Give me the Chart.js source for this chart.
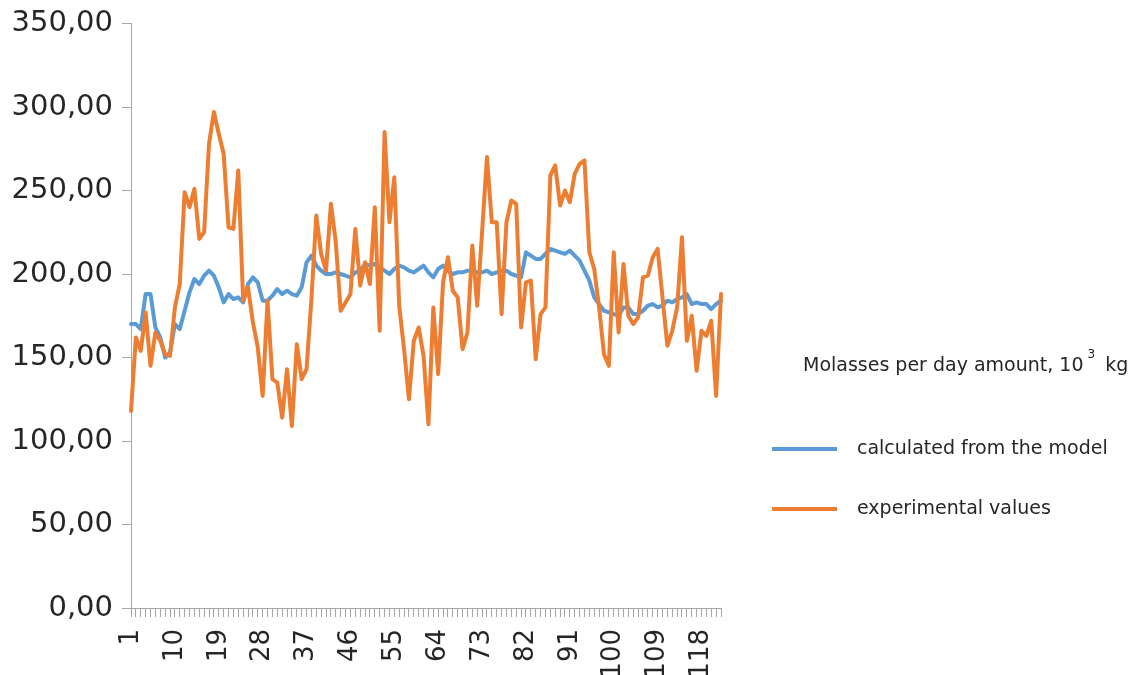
<!DOCTYPE html>
<html>
<head>
<meta charset="utf-8">
<script src="https://cdn.jsdelivr.net/npm/chart.js@4.4.1/dist/chart.umd.min.js"></script>
<style>
  html, body { margin: 0; padding: 0; background: #ffffff; }
  #wrap { width: 1135px; height: 675px; position: relative; }
</style>
</head>
<body>
<div id="wrap"><canvas id="chart" width="1135" height="675"></canvas></div>
<script>
// Day numbers along the horizontal axis (1 .. 122)
const days = Array.from({ length: 122 }, (_, i) => String(i + 1));
// Every 9th day carries a label
const labelStep = 9;

// Molasses per day, 10^3 kg — values calculated from the model
const modelValues = [
  170,170,167,188,188,168,162,150,153,170,
  167,178,189,197,194,199,202,199,192,183,
  188,185,186,183,194,198,195,184,184,187,
  191,188,190,188,187,192,207,211,205,202,
  200,200,201,200,199,198,201,202,206,205,
  206,204,202,200,203,205,204,202,201,203,
  205,201,198,203,205,202,200,201,201,202,
  202,201,201,202,200,201,202,202,200,199,
  198,213,211,209,209,212,215,214,213,212,
  214,211,208,202,196,186,182,178,177,176,
  175,180,180,176,176,178,181,182,180,181,
  184,183,185,186,188,182,183,182,182,179,
  182,184
];

// Molasses per day, 10^3 kg — experimental values
const experimentalValues = [
  118,162,154,177,145,165,160,152,151,180,
  194,249,240,251,221,225,278,297,284,272,
  228,227,262,184,192,171,156,127,184,137,
  135,114,143,109,158,137,143,185,235,212,
  202,242,219,178,183,188,227,193,207,194,
  240,166,285,231,258,181,155,125,160,168,
  151,110,180,140,195,210,190,186,155,165,
  217,181,225,270,231,231,176,231,244,242,
  168,195,196,149,176,180,259,265,241,250,
  243,260,266,268,213,203,180,152,145,213,
  165,206,175,170,174,198,199,210,215,186,
  157,166,180,222,160,175,142,166,163,172,
  127,188
];

// Value axis range and step
const yMin = 0;
const yMax = 350;
const yStep = 50;

// Series names and legend heading
const seriesNames = ['calculated from the model', 'experimental values'];
const legendHeading = 'Molasses per day amount, 10';
const legendHeadingSup = '3';
const legendHeadingUnit = 'kg';

const blue = '#5b9bd5';
const orange = '#ed7d31';
const axisGray = '#a6a6a6';
const textColor = '#262626';
const fontFamily = '"DejaVu Sans", "Open Sans", sans-serif';

// Legend on the right: heading plus one line sample per series
const sideLegend = {
  id: 'sideLegend',
  afterDraw(chart) {
    const { ctx, chartArea } = chart;
    const base = chartArea.right;
    ctx.save();
    ctx.fillStyle = textColor;
    ctx.textBaseline = 'middle';
    ctx.textAlign = 'left';

    // heading with superscript exponent
    const hx = base + 82, hy = 366;
    ctx.font = '19px ' + fontFamily;
    ctx.fillText(legendHeading, hx, hy);
    let cx = hx + ctx.measureText(legendHeading).width + 4;
    ctx.font = '12px ' + fontFamily;
    ctx.fillText(legendHeadingSup, cx, hy - 11);
    cx += ctx.measureText(legendHeadingSup).width + 10;
    ctx.font = '19px ' + fontFamily;
    ctx.fillText(legendHeadingUnit, cx, hy);

    // entries
    const rows = [449, 509];
    chart.data.datasets.forEach((ds, i) => {
      const y = rows[i];
      ctx.strokeStyle = ds.borderColor;
      ctx.lineWidth = 4;
      ctx.lineCap = 'butt';
      ctx.beginPath();
      ctx.moveTo(base + 51, y);
      ctx.lineTo(base + 116, y);
      ctx.stroke();
      ctx.fillStyle = textColor;
      ctx.font = '19px ' + fontFamily;
      ctx.fillText(ds.label, base + 136, y);
    });
    ctx.restore();
  }
};

new Chart(document.getElementById('chart'), {
  type: 'line',
  data: {
    labels: days,
    datasets: [
      {
        label: seriesNames[0],
        data: modelValues,
        borderColor: blue,
        backgroundColor: blue,
        borderWidth: 4,
        pointRadius: 0,
        tension: 0,
        borderJoinStyle: 'round',
        borderCapStyle: 'round',
        order: 2
      },
      {
        label: seriesNames[1],
        data: experimentalValues,
        borderColor: orange,
        backgroundColor: orange,
        borderWidth: 4,
        pointRadius: 0,
        tension: 0,
        borderJoinStyle: 'round',
        borderCapStyle: 'round',
        order: 1
      }
    ]
  },
  options: {
    responsive: false,
    animation: false,
    devicePixelRatio: 1,
    layout: { padding: { top: 23.5, right: 414, bottom: 0, left: 0 } },
    plugins: {
      legend: { display: false },
      tooltip: { enabled: false },
      title: { display: false }
    },
    scales: {
      x: {
        type: 'category',
        offset: false,
        grid: {
          offset: false,
          drawOnChartArea: false,
          drawTicks: true,
          tickLength: 9,
          color: axisGray,
          lineWidth: 1
        },
        border: { display: true, color: axisGray, width: 1 },
        ticks: {
          autoSkip: false,
          maxRotation: 90,
          minRotation: 90,
          padding: 12,
          color: textColor,
          font: { family: fontFamily, size: 26 },
          callback: (value, index) => (index % labelStep === 0 ? days[index] : '')
        },
        afterFit(scale) {
          scale.height = 67;
          scale.paddingLeft = 0;
          scale.paddingRight = 0;
        }
      },
      y: {
        min: yMin,
        max: yMax,
        grid: {
          drawOnChartArea: false,
          drawTicks: true,
          tickLength: 9,
          color: axisGray,
          lineWidth: 1
        },
        border: { display: true, color: axisGray, width: 1 },
        ticks: {
          stepSize: yStep,
          padding: 9,
          color: textColor,
          font: { family: fontFamily, size: 29 },
          callback: (v) => Number(v).toFixed(2).replace('.', ',')
        },
        afterFit(scale) {
          scale.width = 131;
          scale.paddingTop = 0;
          scale.paddingBottom = 0;
        }
      }
    }
  },
  plugins: [sideLegend]
});
</script>
</body>
</html>
